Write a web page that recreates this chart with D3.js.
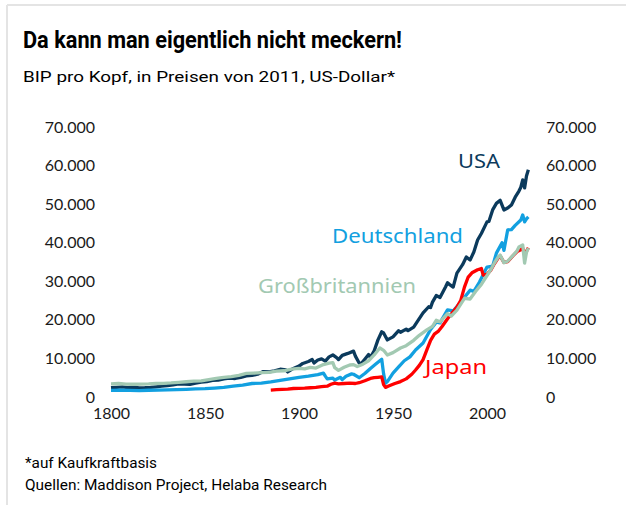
<!DOCTYPE html>
<html>
<head>
<meta charset="utf-8">
<script src="https://cdn.jsdelivr.net/npm/d3@7"></script>
<style>
  body { margin: 0; background: #fff; }
  svg { display: block; }
</style>
</head>
<body>
<script>
// BIP pro Kopf (2011er US-Dollar, KKP)
const usa = [
  [1800,2400],[1803,2500],[1806,2600],[1809,2450],[1812,2550],[1815,2350],[1818,2400],[1821,2500],
  [1824,2650],[1827,2800],[1830,2950],[1833,3150],[1836,3400],[1839,3350],[1842,3300],[1845,3600],
  [1848,3850],[1851,4000],[1854,4300],[1857,4350],[1860,4700],[1863,4900],[1866,4800],[1869,5100],
  [1872,5500],[1875,5600],[1878,5900],[1881,6600],[1884,6500],[1887,6800],[1890,7200],[1893,7000],
  [1894,6500],[1897,7400],[1900,8000],[1902,8700],[1905,9200],[1907,9700],[1908,8800],[1910,9600],
  [1912,9900],[1914,9300],[1916,10400],[1918,10900],[1920,10200],[1921,9700],[1923,10800],[1926,11300],
  [1929,11900],[1930,10600],[1932,8800],[1933,8600],[1935,9800],[1937,11000],[1938,10300],[1940,12000],
  [1942,14800],[1944,16900],[1945,16600],[1947,14800],[1950,15600],[1953,17200],[1954,16800],[1957,17600],
  [1958,17200],[1961,18100],[1963,19600],[1966,21800],[1969,23400],[1970,23200],[1971,24600],[1973,26300],
  [1975,25800],[1978,28600],[1979,29600],[1980,29200],[1982,28500],[1984,32100],[1987,34300],[1989,36300],
  [1991,35500],[1993,37600],[1995,40700],[1997,42400],[2000,45400],[2001,45500],[2003,48500],[2005,50200],
  [2007,51000],[2009,48500],[2011,49000],[2013,49800],[2015,51800],[2017,53400],[2018,54400],[2019,56300],
  [2020,54200],[2021,57300],[2022,58900]
];
const deutschland = [
  [1800,1700],[1805,1750],[1810,1700],[1815,1650],[1820,1750],[1825,1800],[1830,1850],[1835,1900],
  [1840,2000],[1845,2100],[1850,2150],[1855,2300],[1860,2500],[1865,2800],[1870,3100],[1875,3500],
  [1880,3600],[1885,3900],[1890,4300],[1895,4700],[1900,5100],[1905,5400],[1910,5800],[1913,6200],
  [1914,5400],[1915,4700],[1918,4900],[1919,4400],[1922,5100],[1923,4500],[1925,5400],[1928,6000],
  [1929,5900],[1932,5000],[1935,6100],[1938,7400],[1941,8600],[1944,9800],[1945,6000],[1946,3600],
  [1947,4000],[1950,6200],[1953,7800],[1956,9400],[1959,10400],[1962,12200],[1966,14000],[1970,17500],
  [1973,19400],[1975,19200],[1979,22600],[1982,22300],[1986,24600],[1991,27700],[1993,27400],[1996,29800],
  [2000,33700],[2003,33900],[2005,37300],[2008,40000],[2009,38000],[2011,43300],[2013,43400],[2015,44500],
  [2018,45900],[2019,47200],[2020,45400],[2021,46200],[2022,46700]
];
const grossbritannien = [
  [1800,3400],[1804,3500],[1808,3350],[1812,3300],[1816,3350],[1820,3400],[1824,3500],[1828,3550],
  [1832,3650],[1836,3800],[1840,3950],[1844,4100],[1848,4200],[1852,4500],[1856,4800],[1860,5100],
  [1864,5300],[1868,5600],[1872,6100],[1876,6200],[1880,6300],[1884,6400],[1888,6700],[1892,6800],
  [1896,7200],[1900,7400],[1903,7300],[1906,7700],[1909,7500],[1913,8400],[1916,8800],[1918,8900],
  [1919,7600],[1921,6900],[1924,7700],[1927,8300],[1929,8400],[1931,7900],[1934,8500],[1937,9400],
  [1940,10900],[1943,12700],[1945,12100],[1947,10900],[1950,11500],[1954,12700],[1957,13300],[1961,14700],
  [1964,16000],[1968,17400],[1971,18300],[1973,19900],[1975,19500],[1979,21600],[1981,21000],[1984,22500],
  [1988,25600],[1991,25400],[1994,27400],[1997,29200],[2000,31500],[2002,33000],[2004,34800],[2006,36300],
  [2007,36800],[2009,34800],[2011,35200],[2014,36800],[2016,37900],[2017,38900],[2019,39400],[2020,34700],
  [2021,37500],[2022,38600]
];
const japan = [
  [1885,1800],[1888,1900],[1891,2000],[1894,2050],[1897,2200],[1900,2250],[1903,2300],[1906,2400],
  [1909,2500],[1912,2700],[1915,2800],[1917,3300],[1919,3600],[1921,3400],[1924,3500],[1927,3600],
  [1930,3500],[1932,3700],[1935,4200],[1938,4800],[1940,5000],[1942,5100],[1944,5200],[1945,3200],
  [1946,2500],[1948,2900],[1951,3500],[1954,4000],[1957,4700],[1960,5900],[1962,7000],[1964,8200],
  [1966,9700],[1968,12200],[1970,14700],[1972,16300],[1974,17000],[1976,18200],[1979,20300],[1981,21500],
  [1984,23300],[1986,25000],[1988,28500],[1990,31100],[1992,32200],[1995,33000],[1997,33300],[1998,31600],
  [2000,31800],[2002,32900],[2004,34600],[2006,36100],[2007,36600],[2009,34900],[2011,35100],[2014,36700],
  [2016,37700],[2018,38200],[2019,38600],[2020,36800],[2021,37800],[2022,38700]
];

const yTicks = [0, 10000, 20000, 30000, 40000, 50000, 60000, 70000];
const xTicks = [1800, 1850, 1900, 1950, 2000];

const title = "Da kann man eigentlich nicht meckern!";
const subtitle = "BIP pro Kopf, in Preisen von 2011, US-Dollar*";
const notes = ["*auf Kaufkraftbasis", "Quellen: Maddison Project, Helaba Research"];

const width = 626, height = 505;
const svg = d3.select("body").append("svg")
    .attr("width", width)
    .attr("height", height);

// light frame top / left
svg.append("line").attr("x1", 7).attr("x2", width).attr("y1", 5).attr("y2", 5)
    .attr("stroke", "#e4e4e4").attr("stroke-width", 2);
svg.append("line").attr("x1", 7).attr("x2", 7).attr("y1", 5).attr("y2", height)
    .attr("stroke", "#e4e4e4").attr("stroke-width", 2);

svg.append("text")
    .attr("x", 23).attr("y", 48)
    .attr("font-family", "Roboto, sans-serif")
    .attr("font-weight", "bold")
    .attr("font-size", 23)
    .attr("textLength", 379)
    .attr("lengthAdjust", "spacingAndGlyphs")
    .attr("fill", "#000")
    .text(title);

svg.append("text")
    .attr("x", 23).attr("y", 82)
    .attr("font-family", "Roboto, sans-serif")
    .attr("font-size", 15)
    .attr("textLength", 372)
    .attr("lengthAdjust", "spacingAndGlyphs")
    .attr("fill", "#000")
    .text(subtitle);

const x = d3.scaleLinear().domain([1800, 2000]).range([111, 487]);
const y = d3.scaleLinear().domain([0, 70000]).range([397, 127]);

const fmt = d => d3.format(",")(d).replace(/,/g, ".");

// y labels on both sides, no axis lines
const yLeft = svg.append("g").attr("transform", "translate(95,0)")
    .call(d3.axisLeft(y).tickValues(yTicks).tickFormat(fmt).tickSize(0).tickPadding(0));
const yRight = svg.append("g").attr("transform", "translate(546,0)")
    .call(d3.axisRight(y).tickValues(yTicks).tickFormat(fmt).tickSize(0).tickPadding(0));
const xAxis = svg.append("g").attr("transform", "translate(0,408)")
    .call(d3.axisBottom(x).tickValues(xTicks).tickFormat(d3.format("d")).tickSize(0).tickPadding(0));

[yLeft, yRight, xAxis].forEach(g => {
    g.select(".domain").remove();
    g.selectAll("text")
        .attr("font-family", "Lato, sans-serif")
        .attr("font-size", 16)
        .attr("fill", "#1a1a1a");
});

const series = [
    { name: "USA", data: usa, color: "#0b3a5c" },
    { name: "Deutschland", data: deutschland, color: "#12a0e0" },
    { name: "Japan", data: japan, color: "#ff0000" },
    { name: "Großbritannien", data: grossbritannien, color: "#a2c9b2" }
];

const line = d3.line().x(d => x(d[0])).y(d => y(d[1]));

series.forEach(s => {
    svg.append("path")
        .datum(s.data)
        .attr("fill", "none")
        .attr("stroke", s.color)
        .attr("stroke-width", 3.3)
        .attr("stroke-linejoin", "round")
        .attr("d", line);
});

// series labels
const labels = [
    { text: "USA", x: 458, y: 168, w: 42, color: "#0b3a5c" },
    { text: "Deutschland", x: 332, y: 243, w: 131, color: "#12a0e0" },
    { text: "Großbritannien", x: 258, y: 293, w: 158, color: "#a2c9b2" },
    { text: "Japan", x: 425, y: 374, w: 62, color: "#ff0000" }
];
labels.forEach(l => {
    svg.append("text")
        .attr("x", l.x).attr("y", l.y)
        .attr("font-family", "'Noto Sans', sans-serif")
        .attr("font-size", 20)
        .attr("textLength", l.w)
        .attr("lengthAdjust", "spacingAndGlyphs")
        .attr("fill", l.color)
        .text(l.text);
});

notes.forEach((n, i) => {
    svg.append("text")
        .attr("x", 25).attr("y", 468 + i * 22)
        .attr("font-family", "Roboto, sans-serif")
        .attr("font-size", 14)
        .attr("textLength", i === 0 ? 132 : 302)
        .attr("lengthAdjust", "spacingAndGlyphs")
        .attr("fill", "#000")
        .text(n);
});
</script>
</body>
</html>
